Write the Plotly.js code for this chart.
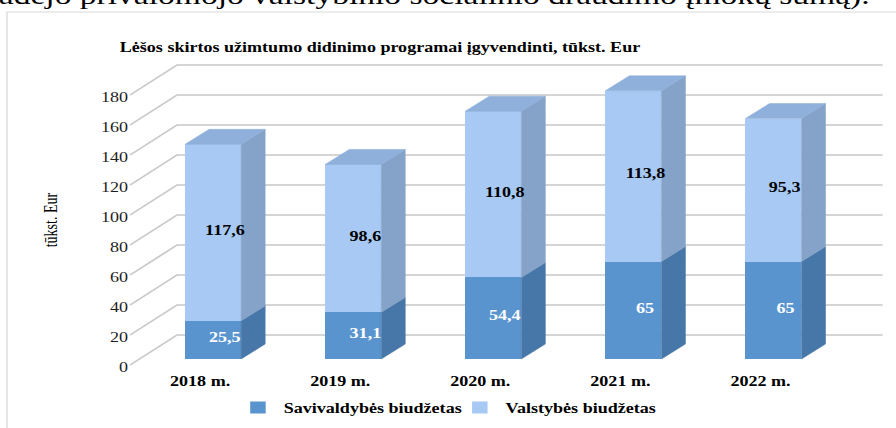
<!DOCTYPE html>
<html>
<head>
<meta charset="utf-8">
<script src="https://cdn.plot.ly/plotly-3.0.1.min.js"></script>
<style>
html,body{margin:0;padding:0;background:#fff;overflow:hidden;}
#chart{height:428px;transform-origin:0 0;}
</style>
</head>
<body>
<div id="chart"></div>
<script>
// ---- data ----
const years = ['2018 m.', '2019 m.', '2020 m.', '2021 m.', '2022 m.'];
const savivaldybes = [25.5, 31.1, 54.4, 65, 65];
const valstybes = [117.6, 98.6, 110.8, 113.8, 95.3];
const yTicks = [0, 20, 40, 60, 80, 100, 120, 140, 160, 180];
const seriesNames = ['Savivaldybės biudžetas', 'Valstybės biudžetas'];
const chartTitle = 'Lėšos skirtos užimtumo didinimo programai įgyvendinti, tūkst. Eur';
const yTitle = 'tūkst. Eur';
const topText = 'adėjo privalomojo valstybinio socialinio draudimo įmokų sumą).';

// ---- geometry / style ----
const S = 1.29;                 // horizontal stretch of the original picture
const W = 896 / S;
const PXX = 140, X_ORIGIN = 213; // px per category, px of first bar centre
const PXY = 1.5, Y_ORIGIN = 359; // px per unit, px of value 0 (bar front)
const X0 = -X_ORIGIN / PXX, X1 = (896 - X_ORIGIN) / PXX;
const Y0 = (Y_ORIGIN - 428) / PXY, Y1 = Y_ORIGIN / PXY;
const BAR_W = 0.4;
const DEPTH_X = 24 / PXX, DEPTH_Y = 15 / PXY;
const FRONT_X = (130 - X_ORIGIN) / PXX, FRONT_DY = -4;
const BACK_X0 = (177 - X_ORIGIN) / PXX, BACK_X1 = (882 - X_ORIGIN) / PXX, BACK_DY = 16;
const LABEL_SHIFT = -8 / PXY;
const CAT_DX = -13 / PXX;
const FONT = 'Liberation Serif';

const C = {
  darkFront: '#5994cf', darkSide: '#4677a8',
  lightFront: '#a7c9f3', lightSide: '#85a3c8', lightTop: '#8eb0da',
  grid: '#c8c8c8'
};

document.getElementById('chart').style.width = W + 'px';
document.getElementById('chart').style.transform = 'scaleX(' + S + ')';

const idx = years.map((_, i) => i);
const fmt = v => String(v).replace('.', ',');

const traces = [
  { type: 'bar', x: idx, y: savivaldybes, name: seriesNames[0], width: BAR_W,
    marker: { color: C.darkFront, line: { width: 0 } }, hoverinfo: 'skip' },
  { type: 'bar', x: idx, y: valstybes, name: seriesNames[1], width: BAR_W,
    marker: { color: C.lightFront, line: { width: 0 } }, hoverinfo: 'skip' }
];

function poly(xs, ys, color) {
  traces.push({ type: 'scatter', mode: 'lines', x: xs.concat([xs[0]]), y: ys.concat([ys[0]]),
    fill: 'toself', fillcolor: color, line: { color: color, width: 0.5 },
    showlegend: false, hoverinfo: 'skip' });
}

idx.forEach(i => {
  const b = 0, m = savivaldybes[i], t = savivaldybes[i] + valstybes[i];
  const xr = i + BAR_W / 2, xl = i - BAR_W / 2;
  poly([xr, xr + DEPTH_X, xr + DEPTH_X, xr], [b, b + DEPTH_Y, m + DEPTH_Y, m], C.darkSide);
  poly([xr, xr + DEPTH_X, xr + DEPTH_X, xr], [m, m + DEPTH_Y, t + DEPTH_Y, t], C.lightSide);
  poly([xl, xl + DEPTH_X, xr + DEPTH_X, xr], [t, t + DEPTH_Y, t + DEPTH_Y, t], C.lightTop);
});

const shapes = yTicks.map(v => ({
  type: 'path', xref: 'x', yref: 'y', layer: 'below',
  path: 'M ' + FRONT_X + ' ' + (v + FRONT_DY) + ' L ' + BACK_X0 + ' ' + (v + BACK_DY) +
        ' L ' + BACK_X1 + ' ' + (v + BACK_DY),
  line: { color: C.grid, width: 1.6 }
}));
shapes.push({ type: 'rect', xref: 'paper', yref: 'paper', layer: 'below',
  x0: 7 / 896, x1: 1.05, y0: -0.05, y1: 1 - 12 / 428,
  line: { color: '#d9d9d9', width: 1 }, fillcolor: 'rgba(0,0,0,0)' });

const annotations = [];
idx.forEach(i => {
  annotations.push({ xref: 'x', yref: 'y', x: i + DEPTH_X / 2, y: savivaldybes[i] / 2 + DEPTH_Y / 2 - 3.5,
    text: fmt(savivaldybes[i]), showarrow: false, xanchor: 'center', yanchor: 'middle',
    font: { family: FONT, size: 14, color: '#ffffff', weight: 'bold' } });
  annotations.push({ xref: 'x', yref: 'y', x: i + DEPTH_X / 2,
    y: savivaldybes[i] + valstybes[i] / 2 + DEPTH_Y / 2 - 3.5,
    text: fmt(valstybes[i]), showarrow: false, xanchor: 'center', yanchor: 'middle',
    font: { family: FONT, size: 14, color: '#000000', weight: 'bold' } });
});
annotations.push({ xref: 'paper', yref: 'paper', x: 52 / 896, y: 1 - 220 / 428,
  text: yTitle, textangle: -90, showarrow: false, xanchor: 'center', yanchor: 'middle',
  font: { family: FONT, size: 14, color: '#000000' } });
annotations.push({ xref: 'paper', yref: 'paper', x: -4 / 896, y: 1 - 12 / 428,
  text: topText, showarrow: false, xanchor: 'left', yanchor: 'bottom',
  font: { family: FONT, size: 26, color: '#000000' } });

const layout = {
  width: W, height: 428,
  margin: { l: 0, r: 0, t: 0, b: 0 },
  font: { family: FONT, size: 14, color: '#000000' },
  paper_bgcolor: '#ffffff', plot_bgcolor: 'rgba(0,0,0,0)',
  barmode: 'stack',
  title: { text: chartTitle, x: 380 / 896, xanchor: 'center', y: 1 - 47 / 428, yanchor: 'middle',
    font: { family: FONT, size: 14, color: '#000000', weight: 'bold' } },
  xaxis: { range: [X0, X1], domain: [0, 1], tickmode: 'array',
    tickvals: idx.map(i => i + CAT_DX), ticktext: years,
    showgrid: false, zeroline: false, showline: false, ticks: '',
    anchor: 'free', position: (428 - 371) / 428,
    tickfont: { family: FONT, size: 14, color: '#000000', weight: 'bold' }, fixedrange: true },
  yaxis: { range: [Y0, Y1], domain: [0, 1], visible: false, fixedrange: true },
  yaxis2: { overlaying: 'y', range: [Y0 - LABEL_SHIFT, Y1 - LABEL_SHIFT],
    tickmode: 'array', tickvals: yTicks, showgrid: false, zeroline: false, showline: false,
    ticks: '', anchor: 'free', position: 128 / 896, side: 'left',
    tickfont: { family: FONT, size: 14, color: '#1e1e1e' }, fixedrange: true },
  showlegend: true,
  legend: { orientation: 'h', traceorder: 'normal', x: 232 / 896, xanchor: 'left',
    y: 20 / 428, yanchor: 'middle', itemwidth: 30, entrywidth: 127, entrywidthmode: 'pixels',
    bgcolor: 'rgba(0,0,0,0)',
    font: { family: FONT, size: 14, color: '#000000', weight: 'bold' } },
  shapes: shapes,
  annotations: annotations
};

traces.push({ type: 'scatter', x: [], y: [], yaxis: 'y2', showlegend: false, hoverinfo: 'skip' });

Plotly.newPlot('chart', traces, layout, { staticPlot: true, displayModeBar: false });
</script>
</body>
</html>
